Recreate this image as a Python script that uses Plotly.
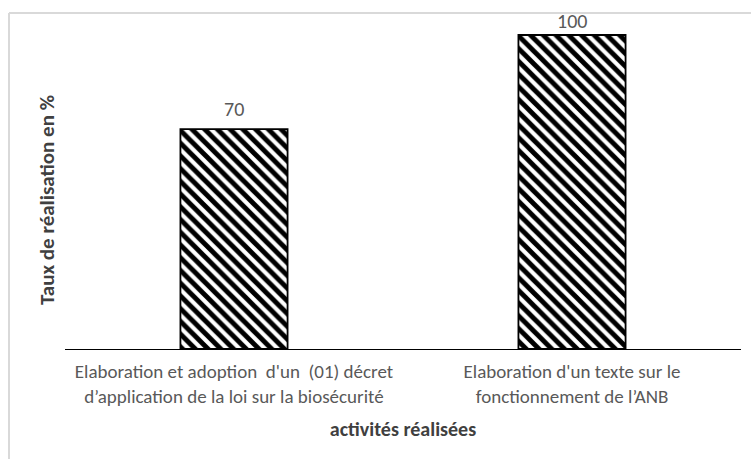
import plotly.graph_objects as go

# Activities and their completion rates (%)
activites = [
    "Elaboration et adoption \u00a0d'un \u00a0(01) décret<br>d’application de la loi sur la biosécurité",
    "Elaboration d'un texte sur le<br>fonctionnement de l’ANB",
]
taux = [70, 100]
label_shift = [6, 0]

FONT = "Carlito, Lato, 'Open Sans', sans-serif"
GREY = "#595959"

W, H = 751, 459
ML, MR, MT, MB = 65, 10, 15, 110
pw, ph = W - ML - MR, H - MT - MB

fig = go.Figure()
fig.add_trace(go.Bar(
    x=[0, 1],
    y=taux,
    width=0.317,
    marker=dict(
        color="white",
        line=dict(color="black", width=1.8),
        pattern=dict(shape="\\", fgcolor="black", bgcolor="white", fgopacity=1,
                     size=9, solidity=0.55, fillmode="replace"),
    ),
    showlegend=False,
))

# value labels above each bar
for i, v in enumerate(taux):
    fig.add_annotation(x=i, y=v, text=str(v), showarrow=False,
                       yanchor="bottom", yshift=label_shift[i],
                       font=dict(family=FONT, size=20, color=GREY))

# y-axis title
fig.add_annotation(x=(47 - ML) / pw, y=(H - MB - 200) / ph, xref="paper", yref="paper",
                   xanchor="center", yanchor="middle",
                   text="<b>Taux de réalisation en %</b>", textangle=-90, showarrow=False,
                   font=dict(family=FONT, size=21, color="#404040"))

# chart frame (light grey)
fx = (9 - ML) / pw
fy = (H - MB - 13) / ph
fig.add_shape(type="line", xref="paper", yref="paper", x0=fx, x1=1.2, y0=fy, y1=fy,
              line=dict(color="#d9d9d9", width=2))
fig.add_shape(type="line", xref="paper", yref="paper", x0=fx, x1=fx, y0=fy, y1=-0.6,
              line=dict(color="#d9d9d9", width=2))

ymax = 100 * ph / (H - MB - 35)
fig.update_layout(
    width=W, height=H,
    margin=dict(l=ML, r=MR, t=MT, b=MB),
    paper_bgcolor="white", plot_bgcolor="white",
    font=dict(family=FONT, color=GREY),
    xaxis=dict(
        range=[-0.5, 1.5],
        tickmode="array", tickvals=[0, 1], ticktext=activites,
        tickfont=dict(family=FONT, size=19, color=GREY),
        ticks="outside", ticklen=5, tickcolor="rgba(0,0,0,0)",
        showline=True, linecolor="black", linewidth=1,
        showgrid=False, zeroline=False,
        title=dict(text="<b>activités réalisées</b>", standoff=15,
                   font=dict(family=FONT, size=20, color="#404040")),
    ),
    yaxis=dict(range=[0, ymax], visible=False, showgrid=False, zeroline=False),
)

fig.write_html("out.html")
